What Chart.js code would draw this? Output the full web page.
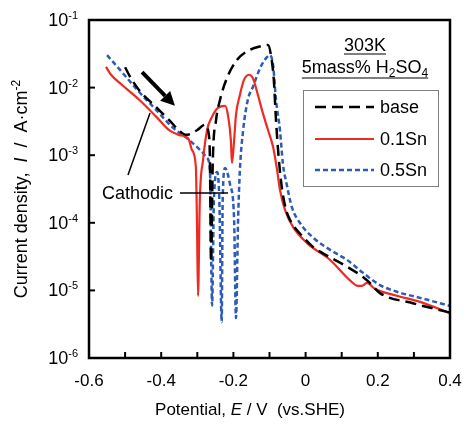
<!DOCTYPE html>
<html>
<head>
<meta charset="utf-8">
<script src="https://cdn.jsdelivr.net/npm/chart.js@4.4.1/dist/chart.umd.min.js"></script>
<style>
  body { margin: 0; background: #fff; }
</style>
</head>
<body>
<canvas id="myChart" width="464" height="424"></canvas>
<script>
// potential (V vs. SHE) and current density (A/cm2), one pair of arrays per specimen
var baseE = [-0.500, -0.484, -0.461, -0.414, -0.378, -0.351, -0.331, -0.301, -0.279, -0.268, -0.265, -0.262, -0.257, -0.248, -0.237, -0.218, -0.190, -0.154, -0.121, -0.104, -0.096, -0.088, -0.082, -0.074, -0.065, -0.054, -0.043, -0.007, 0.021, 0.068, 0.115, 0.159, 0.178, 0.206, 0.297, 0.400];
var baseI = [0.0200, 0.0138, 0.00912, 0.00513, 0.00331, 0.00234, 0.00200, 0.00234, 0.00282, 0.00200, 0.000851, 2.63e-5, 0.000851, 0.00331, 0.00661, 0.0138, 0.0257, 0.0363, 0.0412, 0.0427, 0.0302, 0.0129, 0.00331, 0.000851, 0.000309, 0.000155, 0.000110, 6.17e-5, 4.37e-5, 3.09e-5, 2.24e-5, 1.58e-5, 1.29e-5, 9.12e-6, 6.46e-6, 4.7e-6];

var sn1E = [-0.553, -0.539, -0.509, -0.461, -0.414, -0.378, -0.351, -0.331, -0.323, -0.315, -0.304, -0.301, -0.298, -0.293, -0.284, -0.273, -0.259, -0.243, -0.223, -0.215, -0.207, -0.204, -0.198, -0.193, -0.182, -0.171, -0.157, -0.146, -0.132, -0.121, -0.104, -0.090, -0.079, -0.071, -0.057, -0.035, 0.004, 0.068, 0.123, 0.145, 0.156, 0.170, 0.193, 0.253, 0.317, 0.400];
var sn1I = [0.0202, 0.0155, 0.0110, 0.00661, 0.00372, 0.00234, 0.00200, 0.00186, 0.00168, 0.00120, 0.000676, 0.000110, 8.3e-6, 0.000219, 0.000851, 0.00234, 0.00372, 0.00501, 0.00537, 0.00389, 0.00166, 0.000767, 0.00166, 0.00389, 0.00776, 0.0129, 0.0155, 0.0138, 0.00776, 0.00468, 0.00234, 0.00132, 0.000603, 0.000309, 0.000155, 8.71e-5, 5.01e-5, 2.82e-5, 1.41e-5, 1.17e-5, 1.17e-5, 1.29e-5, 1.05e-5, 8.32e-6, 6.76e-6, 4.6e-6];

var sn5E = [-0.550, -0.509, -0.461, -0.414, -0.370, -0.323, -0.287, -0.273, -0.265, -0.259, -0.254, -0.245, -0.239, -0.2324, -0.2297, -0.223, -0.209, -0.198, -0.193, -0.187, -0.182, -0.173, -0.160, -0.146, -0.126, -0.107, -0.099, -0.090, -0.082, -0.071, -0.063, -0.052, -0.038, -0.016, 0.021, 0.068, 0.115, 0.159, 0.206, 0.253, 0.317, 0.400];
var sn5I = [0.0302, 0.0170, 0.00861, 0.00468, 0.00263, 0.00168, 0.00112, 0.000912, 0.000603, 6.0e-6, 0.000219, 0.000562, 0.000219, 3.4e-6, 0.000219, 0.000646, 0.000363, 0.000110, 3.9e-6, 0.000110, 0.000603, 0.00234, 0.00661, 0.0102, 0.0195, 0.0282, 0.0302, 0.0214, 0.00661, 0.00234, 0.000759, 0.000363, 0.000170, 0.000100, 6.03e-5, 3.98e-5, 2.82e-5, 1.82e-5, 1.20e-5, 9.55e-6, 7.76e-6, 5.9e-6];

var seriesNames = ['base', '0.1Sn', '0.5Sn'];
var seriesColors = ['#000000', '#ee2a22', '#2c5cb6'];

// axis ticks
var xTicks = [-0.6, -0.5, -0.4, -0.3, -0.2, -0.1, 0, 0.1, 0.2, 0.3, 0.4];
var xLabels = ['-0.6', '', '-0.4', '', '-0.2', '', '0', '', '0.2', '', '0.4'];
var yTicks = [1e-1, 1e-2, 1e-3, 1e-4, 1e-5, 1e-6];
var yExp = ['-1', '-2', '-3', '-4', '-5', '-6'];

function pts(e, i) {
    return e.map(function (v, k) { return { x: v, y: i[k] }; });
}

var FONT = '"Liberation Sans", Arial, sans-serif';

function setFont(c, size, italic) {
    c.font = (italic ? 'italic ' : '') + size + 'px ' + FONT;
}

// parts: [text, size, italic, dy]
function richText(c, parts, x, y, align) {
    var w = 0;
    parts.forEach(function (p) { setFont(c, p[1], p[2]); w += c.measureText(p[0]).width; });
    var cx = align === 'center' ? x - w / 2 : (align === 'right' ? x - w : x);
    var start = cx;
    c.textAlign = 'left';
    c.textBaseline = 'alphabetic';
    parts.forEach(function (p) {
        setFont(c, p[1], p[2]);
        c.fillText(p[0], cx, y + (p[3] || 0));
        cx += c.measureText(p[0]).width;
    });
    return { left: start, width: w };
}

function line(c, x1, y1, x2, y2) {
    c.beginPath();
    c.moveTo(x1, y1);
    c.lineTo(x2, y2);
    c.stroke();
}

var decor = {
    id: 'decor',
    afterDraw: function (chart) {
        var c = chart.ctx;
        var a = chart.chartArea;
        var xs = chart.scales.x, ys = chart.scales.y;
        c.save();
        c.fillStyle = '#000';
        c.strokeStyle = '#000';

        // frame
        c.lineWidth = 2.5;
        c.strokeRect(a.left, a.top, a.right - a.left, a.bottom - a.top);

        // x ticks, pointing in
        c.lineWidth = 2;
        xTicks.forEach(function (v, k) {
            var px = xs.getPixelForValue(v);
            line(c, px, a.bottom, px, a.bottom - 6);
            if (xLabels[k]) {
                richText(c, [[xLabels[k], 17]], px, 386, 'center');
            }
        });

        // y ticks, 10^n labels
        yTicks.forEach(function (v, k) {
            var py = ys.getPixelForValue(v);
            line(c, a.left, py, a.left + 6, py);
            richText(c, [['10', 18, false, 0], [yExp[k], 11, false, -7]], 78, py + 6, 'right');
        });

        // axis titles
        richText(c, [['Potential, ', 17], ['E', 17, true], [' / V  (vs.SHE)', 17]], 250, 415, 'center');
        c.save();
        c.translate(27, (a.top + a.bottom) / 2);
        c.rotate(-Math.PI / 2);
        richText(c, [['Current density,  ', 18], ['I', 18, true], ['  /  A\u00b7cm', 18], ['-2', 12, false, -7]], 0, 0, 'center');
        c.restore();

        // test condition, underlined
        var r1 = richText(c, [['303K', 18]], 365, 51, 'center');
        c.lineWidth = 1.2;
        line(c, r1.left, 54, r1.left + r1.width, 54);
        var r2 = richText(c, [['5mass% H', 18], ['2', 12, false, 4], ['SO', 18], ['4', 12, false, 4]], 365, 73, 'center');
        line(c, r2.left, 78, r2.left + r2.width, 78);

        // legend
        c.fillStyle = '#fff';
        c.fillRect(303, 90, 135, 96);
        c.strokeStyle = '#808080';
        c.lineWidth = 1;
        c.strokeRect(303.5, 90.5, 135, 96);
        var rows = [107, 139, 170];
        chart.data.datasets.forEach(function (ds, k) {
            c.strokeStyle = ds.borderColor;
            c.lineWidth = ds.borderWidth;
            c.setLineDash(ds.borderDash || []);
            line(c, 315, rows[k], 374, rows[k]);
            c.setLineDash([]);
            c.fillStyle = '#000';
            richText(c, [[seriesNames[k], 18]], 380, rows[k] + 6, 'left');
        });

        // sweep direction arrow
        c.strokeStyle = '#000';
        c.fillStyle = '#000';
        var ax1 = xs.getPixelForValue(-0.453), ay1 = ys.getPixelForValue(0.0170);
        var ax2 = xs.getPixelForValue(-0.362), ay2 = ys.getPixelForValue(0.00537);
        var ang = Math.atan2(ay2 - ay1, ax2 - ax1);
        var hl = 14, hw = 7;
        c.lineWidth = 4;
        line(c, ax1, ay1, ax2 - hl * Math.cos(ang), ay2 - hl * Math.sin(ang));
        c.beginPath();
        c.moveTo(ax2, ay2);
        c.lineTo(ax2 - hl * Math.cos(ang) + hw * Math.sin(ang), ay2 - hl * Math.sin(ang) - hw * Math.cos(ang));
        c.lineTo(ax2 - hl * Math.cos(ang) - hw * Math.sin(ang), ay2 - hl * Math.sin(ang) + hw * Math.cos(ang));
        c.closePath();
        c.fill();

        // cathodic pointers
        c.lineWidth = 1.5;
        line(c, xs.getPixelForValue(-0.492), ys.getPixelForValue(5.1e-4), xs.getPixelForValue(-0.431), ys.getPixelForValue(4.2e-3));
        line(c, xs.getPixelForValue(-0.348), ys.getPixelForValue(2.76e-4), xs.getPixelForValue(-0.215), ys.getPixelForValue(2.76e-4));
        richText(c, [['Cathodic', 18]], xs.getPixelForValue(-0.564), ys.getPixelForValue(2.76e-4) + 6, 'left');

        c.restore();
    }
};

var ctx = document.getElementById('myChart').getContext('2d');
var myChart = new Chart(ctx, {
    type: 'scatter',
    data: {
        datasets: [
            {
                label: seriesNames[0],
                data: pts(baseE, baseI),
                borderColor: seriesColors[0],
                borderWidth: 2.5,
                borderDash: [11, 6]
            },
            {
                label: seriesNames[1],
                data: pts(sn1E, sn1I),
                borderColor: seriesColors[1],
                borderWidth: 2.2
            },
            {
                label: seriesNames[2],
                data: pts(sn5E, sn5I),
                borderColor: seriesColors[2],
                borderWidth: 2.5,
                borderDash: [5, 3]
            }
        ]
    },
    options: {
        responsive: false,
        animation: false,
        showLine: true,
        elements: {
            point: { radius: 0 },
            line: { cubicInterpolationMode: 'monotone', fill: false }
        },
        layout: {
            padding: { top: 20, right: 14 }
        },
        plugins: {
            legend: { display: false },
            tooltip: { enabled: false }
        },
        scales: {
            x: {
                type: 'linear',
                min: -0.6,
                max: 0.4,
                ticks: { display: false },
                grid: { display: false },
                border: { display: false },
                afterFit: function (s) { s.height = 66; }
            },
            y: {
                type: 'logarithmic',
                min: 1e-6,
                max: 1e-1,
                ticks: { display: false },
                grid: { display: false },
                border: { display: false },
                afterFit: function (s) { s.width = 89; }
            }
        }
    },
    plugins: [decor]
});
</script>
</body>
</html>
